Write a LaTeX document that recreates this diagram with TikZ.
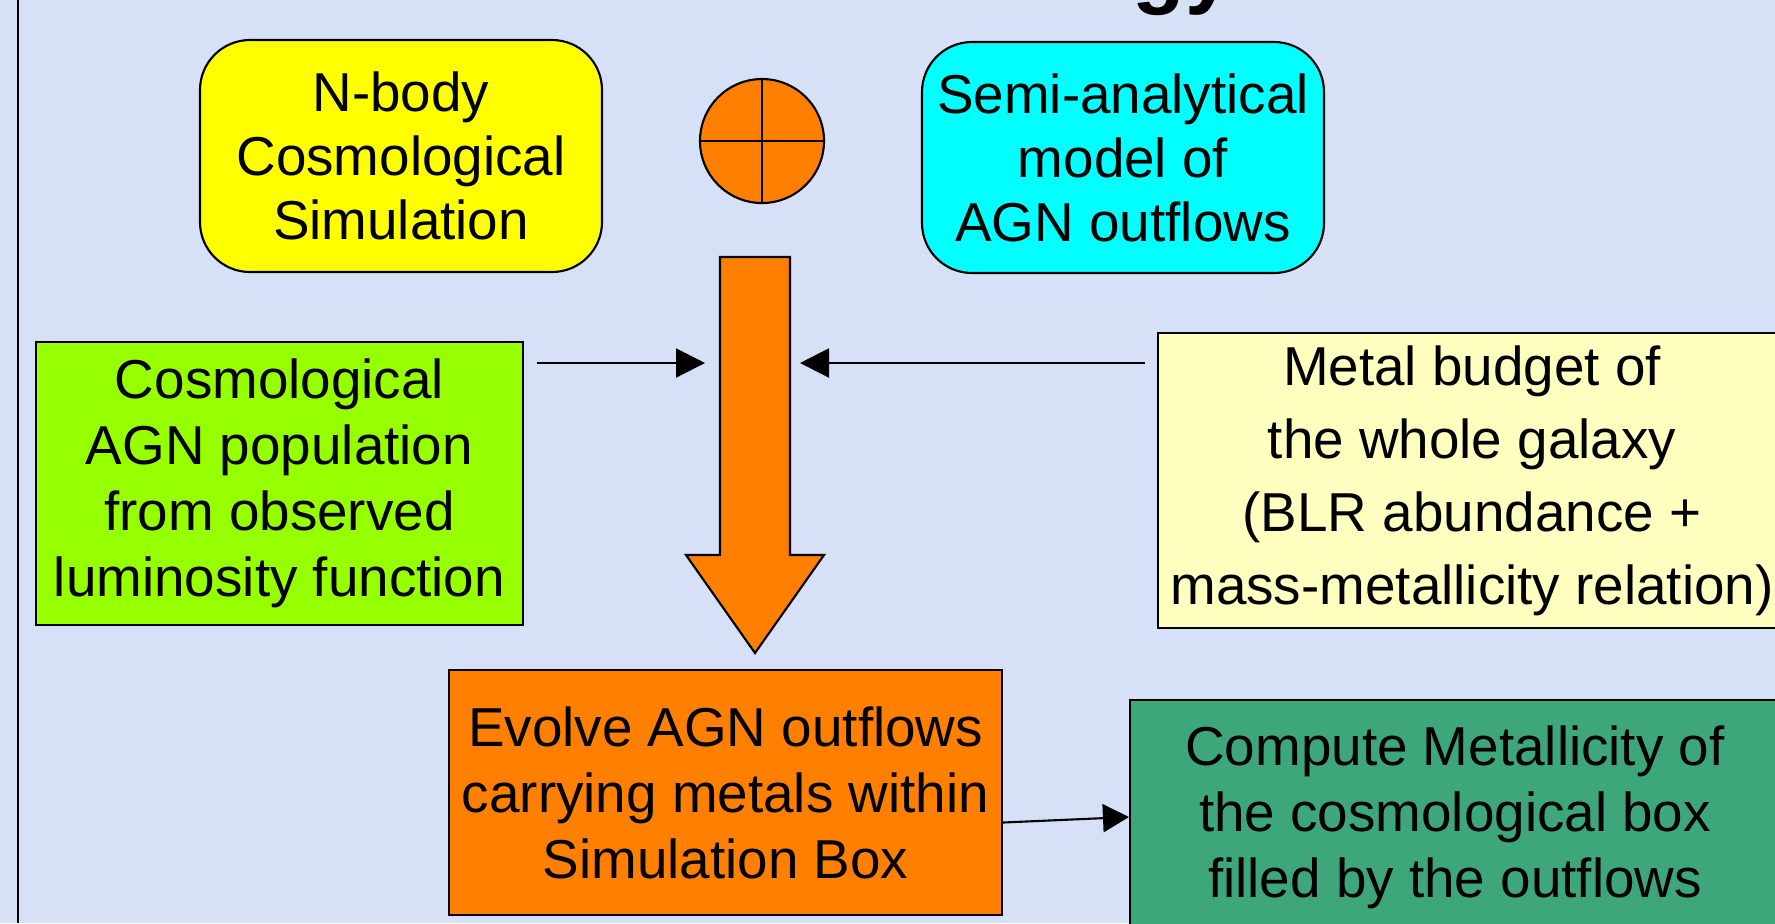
\documentclass[tikz,border=0pt]{standalone}
\usepackage{fontspec}
\setmainfont{Liberation Sans}
\usetikzlibrary{calc}
\usetikzlibrary{arrows.meta}
\definecolor{slidebg}{RGB}{214,224,246}
\definecolor{nbodyyellow}{RGB}{255,255,0}
\definecolor{modelcyan}{RGB}{0,255,255}
\definecolor{floworange}{RGB}{255,128,0}
\definecolor{agnlime}{RGB}{150,255,0}
\definecolor{metalcream}{RGB}{255,255,192}
\definecolor{resultgreen}{RGB}{61,166,123}
\tikzset{
    % Plain filled triangles, as the slide draws them
    >={Triangle[length=2.9mm, width=2.9mm]},
%
    % Every box of the slide
    stage box/.style={
        draw, line width=0.6pt, inner sep=0, align=center,
        font=\fontsize{15.6}{18.8}\selectfont},
%
    % The two inputs at the top have round corners
    input box/.style={stage box, rounded corners=5mm,
        font=\fontsize{15.6}{18.2}\selectfont},
%
    % Thin arrows feeding the main flow
    feed/.style={->, line width=0.6pt}}

\begin{document}
\begin{tikzpicture}[x=1mm, y=1mm]

% Slide background, cut to the size of the shot
\fill[slidebg] (0,0) rectangle (177.5,-92.3);
\useasboundingbox (0,0) rectangle (177.5,-92.3);
\draw[line width=0.5pt] (1.8,0) -- (1.8,-92.3);

% What is left of the title
\path node[anchor=base west, inner sep=0,
        font=\fontsize{24.5}{24.5}\selectfont\bfseries]
    (title) at (113.2,0.3) {gy};

% The two inputs, combined
\path[xshift=40.1mm, yshift=-15.6mm]
    node[input box, fill=nbodyyellow, minimum width=40.2mm, minimum height=23.2mm]
        (nbody) {N-body\\Cosmological\\Simulation};

\path[xshift=112.3mm, yshift=-15.75mm]
    node[input box, fill=modelcyan, minimum width=40.2mm, minimum height=23.1mm]
        (outflow model) {Semi-analytical\\model of\\AGN outflows};

\path[xshift=76.2mm, yshift=-14.1mm]
    node[circle, draw, line width=0.6pt, fill=floworange,
        minimum size=12.4mm, inner sep=0] (combine) {};
\draw[line width=0.6pt] (combine.north) -- (combine.south)
    (combine.west) -- (combine.east);

% The broad arrow down into the simulation
\draw[line width=0.6pt, fill=floworange]
    (72,-25.7) -- (79,-25.7) -- (79,-55.5) -- (82.4,-55.5)
    -- (75.5,-65.3) -- (68.6,-55.5) -- (72,-55.5) -- cycle;
\coordinate (flow left) at (72,-36.3);
\coordinate (flow right) at (79,-36.3);

% Side inputs
\path[xshift=27.95mm, yshift=-48.35mm]
    node[stage box, fill=agnlime, minimum width=48.7mm, minimum height=28.3mm]
        (agn population) {Cosmological\\AGN population\\from observed\\luminosity function};

\path[xshift=147.2mm, yshift=-48.05mm]
    node[stage box, fill=metalcream, minimum width=62.8mm, minimum height=29.5mm,
        font=\fontsize{15.6}{20.8}\selectfont]
        (metal budget) {Metal budget of\\the whole galaxy\\(BLR abundance +\\mass-metallicity relation)};

\draw[feed, shorten <=1.3mm, shorten >=1.5mm] (agn population.east |- flow left) -- (flow left);
\draw[feed, shorten <=1.2mm, shorten >=1mm] (metal budget.west |- flow right) -- (flow right);

% Simulation and result
\path[xshift=72.55mm, yshift=-79.25mm]
    node[stage box, fill=floworange, minimum width=55.3mm, minimum height=24.5mm]
        (evolve) {Evolve AGN outflows\\carrying metals within\\Simulation Box};

\path[xshift=145.5mm, yshift=-81.7mm]
    node[stage box, fill=resultgreen, minimum width=65mm, minimum height=23.4mm]
        (metallicity) {Compute Metallicity of\\the cosmological box\\filled by the outflows};

\draw[feed, >={Triangle[length=2.6mm, width=2.8mm]}]
    ([yshift=-3mm]evolve.east) -- (metallicity.west);

\end{tikzpicture}
\end{document}
